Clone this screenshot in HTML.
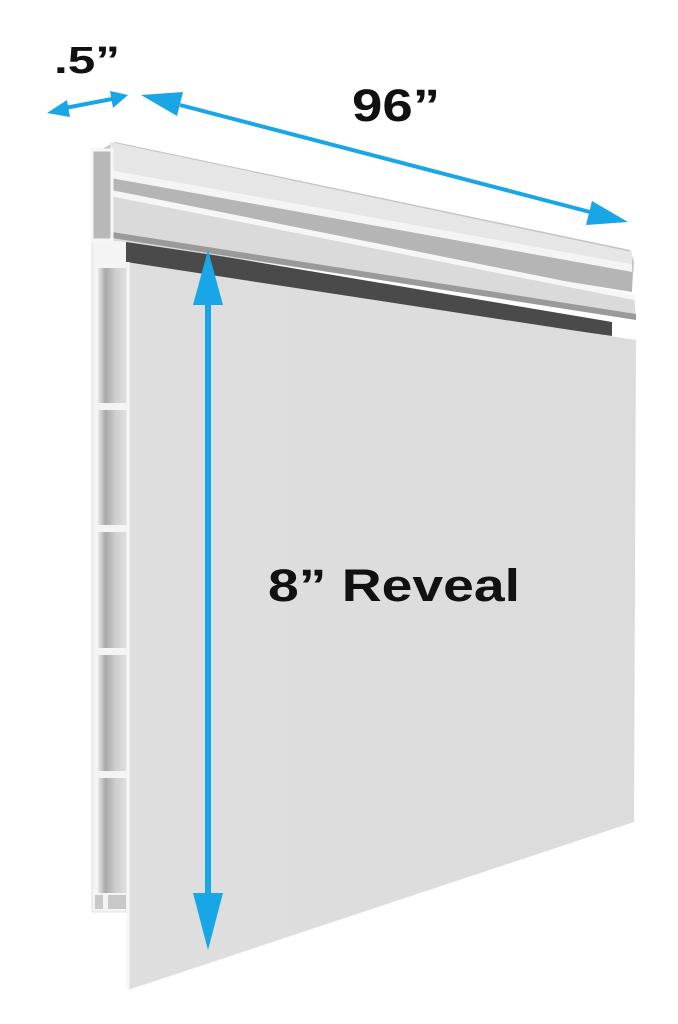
<!DOCTYPE html>
<html><head><meta charset="utf-8"><style>
html,body{margin:0;padding:0;background:#fff;width:678px;height:1024px;overflow:hidden}
svg{display:block}
text{font-family:"Liberation Sans",sans-serif;font-weight:bold;fill:#111}
</style></head><body>
<svg width="678" height="1024" viewBox="0 0 678 1024" xmlns="http://www.w3.org/2000/svg">
<defs>
<linearGradient id="col" x1="0" x2="1" y1="0" y2="0">
<stop offset="0" stop-color="#e8e8e8"/><stop offset="0.25" stop-color="#a8a8a8"/><stop offset="0.6" stop-color="#cfcfcf"/><stop offset="1" stop-color="#e2e2e2"/>
</linearGradient>
<linearGradient id="face" x1="0" x2="1" y1="0" y2="0">
<stop offset="0" stop-color="#dedede"/><stop offset="1" stop-color="#dcdcdc"/>
</linearGradient>
</defs>
<polygon points="92,160 130,160 130,912 92,912" fill="#f4f4f4" stroke="#e0e0e0"/>
<rect x="98" y="268" width="30" height="135" fill="url(#col)"/>
<rect x="98" y="410" width="30" height="115" fill="url(#col)"/>
<rect x="98" y="532" width="30" height="116" fill="url(#col)"/>
<rect x="98" y="655" width="30" height="116" fill="url(#col)"/>
<rect x="98" y="778" width="30" height="115" fill="url(#col)"/>
<rect x="95" y="895" width="8" height="14" fill="#c8c8c8"/>
<rect x="108" y="895" width="18" height="14" fill="#c8c8c8"/>
<polygon points="126,240 612,322 612,336 126,268" fill="#4a4a4a"/>
<polygon points="126,262 636,340 634,822 128,990" fill="url(#face)"/>
<line x1="128" y1="262" x2="128" y2="990" stroke="#f6f6f6" stroke-width="3"/>
<polygon points="100,150 115,142 630,250 634,262 632,290 110,200 100,200" fill="#c4c4c4"/>
<polygon points="110,142 632,252 632,264 110,170" fill="#e6e6e6"/>
<polygon points="110,170 632,264 632,272 110,178" fill="#f4f4f4"/>
<polygon points="110,178 632,272 632,292 110,208" fill="#b5b5b5"/>
<polygon points="95,195 112,190 634,295 636,318 126,242 100,240" fill="#dadada"/>
<polygon points="110,190 634,295 634,300 110,196" fill="#f6f6f6"/>
<polygon points="112,232 636,314 636,320 112,238" fill="#9a9a9a"/>
<rect x="92" y="150" width="20" height="90" fill="#b8b8b8" stroke="#f6f6f6" stroke-width="3"/>
<g fill="#19a6e6" stroke="#19a6e6">
<line x1="208" y1="300" x2="208" y2="900" stroke-width="6"/>
<polygon points="208,250 223,305 193,305" stroke="none"/>
<polygon points="208,950 223,893 193,893" stroke="none"/>
<line x1="180" y1="105" x2="590" y2="212" stroke-width="4"/>
<polygon points="141,95 183,92 177,116" stroke="none"/>
<polygon points="628,222 586,225 592,201" stroke="none"/>
<line x1="65" y1="108" x2="112" y2="99" stroke-width="4"/>
<polygon points="47,113 67,100 70,117" stroke="none"/>
<polygon points="128,95 110,91 113,108" stroke="none"/>
</g>
<text x="54" y="73" font-size="38" textLength="66" lengthAdjust="spacingAndGlyphs">.5”</text>
<text x="352" y="121" font-size="45" textLength="88" lengthAdjust="spacingAndGlyphs">96”</text>
<text x="268" y="601" font-size="45" textLength="252" lengthAdjust="spacingAndGlyphs">8” Reveal</text>
</svg>
</body></html>
